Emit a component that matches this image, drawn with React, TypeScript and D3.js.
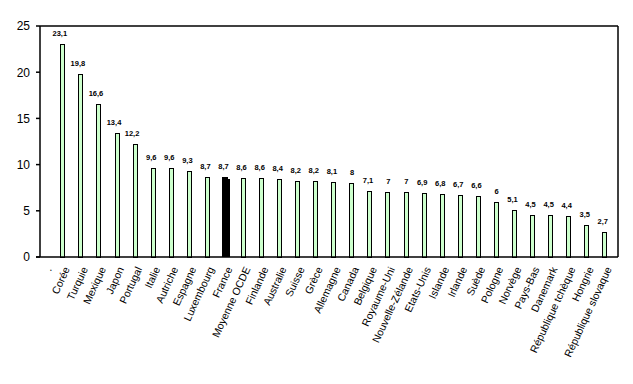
import React from 'react';
import * as d3 from 'd3';

const categories = ['.', 'Corée', 'Turquie', 'Mexique', 'Japon', 'Portugal', 'Italie', 'Autriche', 'Espagne', 'Luxembourg', 'France', 'Moyenne OCDE', 'Finlande', 'Australie', 'Suisse', 'Grèce', 'Allemagne', 'Canada', 'Belgique', 'Royaume-Uni', 'Nouvelle-Zélande', 'Etats-Unis', 'Islande', 'Irlande', 'Suède', 'Pologne', 'Norvège', 'Pays-Bas', 'Danemark', 'République tchèque', 'Hongrie', 'République slovaque'];
const values: (number | null)[] = [null, 23.1, 19.8, 16.6, 13.4, 12.2, 9.6, 9.6, 9.3, 8.7, 8.7, 8.6, 8.6, 8.4, 8.2, 8.2, 8.1, 8, 7.1, 7, 7, 6.9, 6.8, 6.7, 6.6, 6, 5.1, 4.5, 4.5, 4.4, 3.5, 2.7];
const highlight = ['France'];
const yTicks = [0, 5, 10, 15, 20, 25];

const font = "'Liberation Sans', Arial, sans-serif";

export default function App() {
  const left = 40, right = 618, top = 26, bottom = 257;

  const x = d3.scaleBand<string>().domain(categories).range([left, right]).padding(0);
  const y = d3.scaleLinear().domain([0, 25]).range([bottom, top]);
  const bw = x.bandwidth();

  const fmt = (v: number) => String(v).replace('.', ',');

  return (
    <svg width={633} height={384} style={{ position: 'absolute', left: 0, top: 0, background: '#fff' }}>
      {/* bars */}
      {categories.map((c, i) => {
        const v = values[i];
        if (v == null) return null;
        const x0 = (x(c) as number) + bw * 0.125;
        const isHi = highlight.includes(c);
        return (
          <g key={c}>
            {isHi ? (
              <>
                <rect x={x0 + 2} y={y(v) + 2} width={5} height={bottom - y(v) - 2} fill="#000" shapeRendering="crispEdges" />
                <rect x={x0 - 0.5} y={y(v)} width={6} height={bottom - y(v)} fill="#000" shapeRendering="crispEdges" />
              </>
            ) : (
              <rect x={x0 + 0.5} y={y(v) + 0.5} width={4} height={bottom - y(v) - 0.5}
                fill="#ccffcc" stroke="#000" strokeWidth={1} shapeRendering="crispEdges" />
            )}
            <text
              x={x0 + 2.8 - (fmt(v).length - 1) * 1.1}
              y={y(v) - 8}
              textAnchor="middle"
              fontFamily={font}
              fontWeight="bold"
              fontSize={7.5}
              fill="#000"
            >{fmt(v)}</text>
          </g>
        );
      })}

      {/* frame */}
      <line x1={left} x2={right} y1={top} y2={top} stroke="#000" strokeWidth={1.5} />
      <line x1={right} x2={right} y1={top} y2={bottom} stroke="#000" strokeWidth={1.5} />
      <line x1={left} x2={left} y1={top} y2={bottom} stroke="#000" strokeWidth={1.5} />
      <line x1={36} x2={right} y1={bottom} y2={bottom} stroke="#000" strokeWidth={1.5} />

      {/* y axis */}
      {yTicks.map(t => (
        <g key={t}>
          <line x1={36} x2={left} y1={y(t)} y2={y(t)} stroke="#000" strokeWidth={1.5} />
          <text x={30} y={y(t)} dy="0.36em" textAnchor="end" fontFamily={font} fontSize={12} fill="#000">{t}</text>
        </g>
      ))}

      {/* x labels */}
      {categories.map(c => {
        const cx = (x(c) as number) + bw / 2 + 3;
        const cy = 269;
        return (
          <text key={c} x={cx} y={cy} transform={`rotate(-65, ${cx}, ${cy})`} textAnchor="end"
            fontFamily={font} fontSize={10.5} fill="#000">{c}</text>
        );
      })}
    </svg>
  );
}
